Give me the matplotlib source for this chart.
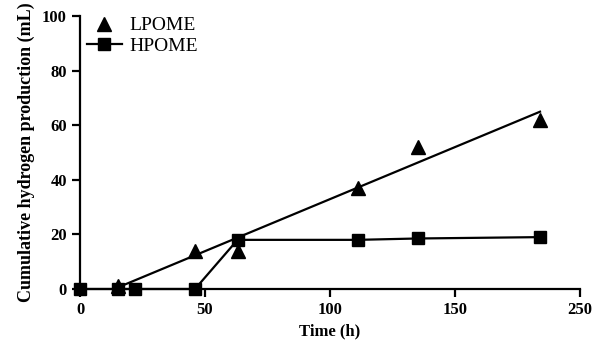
import numpy as np
import matplotlib
matplotlib.use("Agg")
import matplotlib.pyplot as plt

plt.rcParams['font.family'] = ['Liberation Serif', 'DejaVu Serif']

# LPOME data (triangles) with a linear fit
lpome_t = [15, 46, 63, 111, 135, 184]
lpome_h2 = [1, 14, 14, 37, 52, 62]

# HPOME data (squares, connected)
hpome_t = [0, 15, 22, 46, 63, 111, 135, 184]
hpome_h2 = [0, 0, 0, 0, 18, 18, 18.5, 19]

xticks = [0, 50, 100, 150, 200]
xticklabels = ['0', '50', '100', '150', '250']
yticks = [0, 20, 40, 60, 80, 100]

fig = plt.figure(figsize=(5.99, 3.5), dpi=100)
ax = fig.add_axes([0.1336, 0.1743, 0.8347, 0.78])

# regression line for LPOME
slope, icpt = np.polyfit(lpome_t, lpome_h2, 1)
xfit = np.array([min(lpome_t), max(lpome_t)])
ax.plot(xfit, slope * xfit + icpt, color='black', lw=1.6)
ax.plot(lpome_t, lpome_h2, '^', color='black', ms=10, clip_on=False,
        label='LPOME', zorder=3)

ax.plot(hpome_t, hpome_h2, '-s', color='black', lw=1.6, ms=9,
        clip_on=False, label='HPOME', zorder=3)

ax.set_xlim(0, 200)
ax.set_ylim(0, 100)
ax.set_xticks(xticks)
ax.set_xticklabels(xticklabels)
ax.set_yticks(yticks)

for s in ['top', 'right']:
    ax.spines[s].set_visible(False)
for s in ['left', 'bottom']:
    ax.spines[s].set_linewidth(1.6)
ax.tick_params(direction='out', length=6, width=1.6, labelsize=12)
for lab in ax.get_xticklabels() + ax.get_yticklabels():
    lab.set_fontweight('bold')

ax.set_xlabel('Time (h)', fontsize=12, fontweight='semibold', labelpad=4)
ax.set_ylabel('Cumulative hydrogen production (mL)', fontsize=13,
              fontweight='semibold', labelpad=5)

leg = ax.legend(loc='upper left', bbox_to_anchor=(-0.01, 1.04), frameon=False,
                prop={'size': 14}, handlelength=1.8, handletextpad=0.4,
                borderaxespad=0.2, labelspacing=0.15)

fig.savefig('out.png', dpi=100)
